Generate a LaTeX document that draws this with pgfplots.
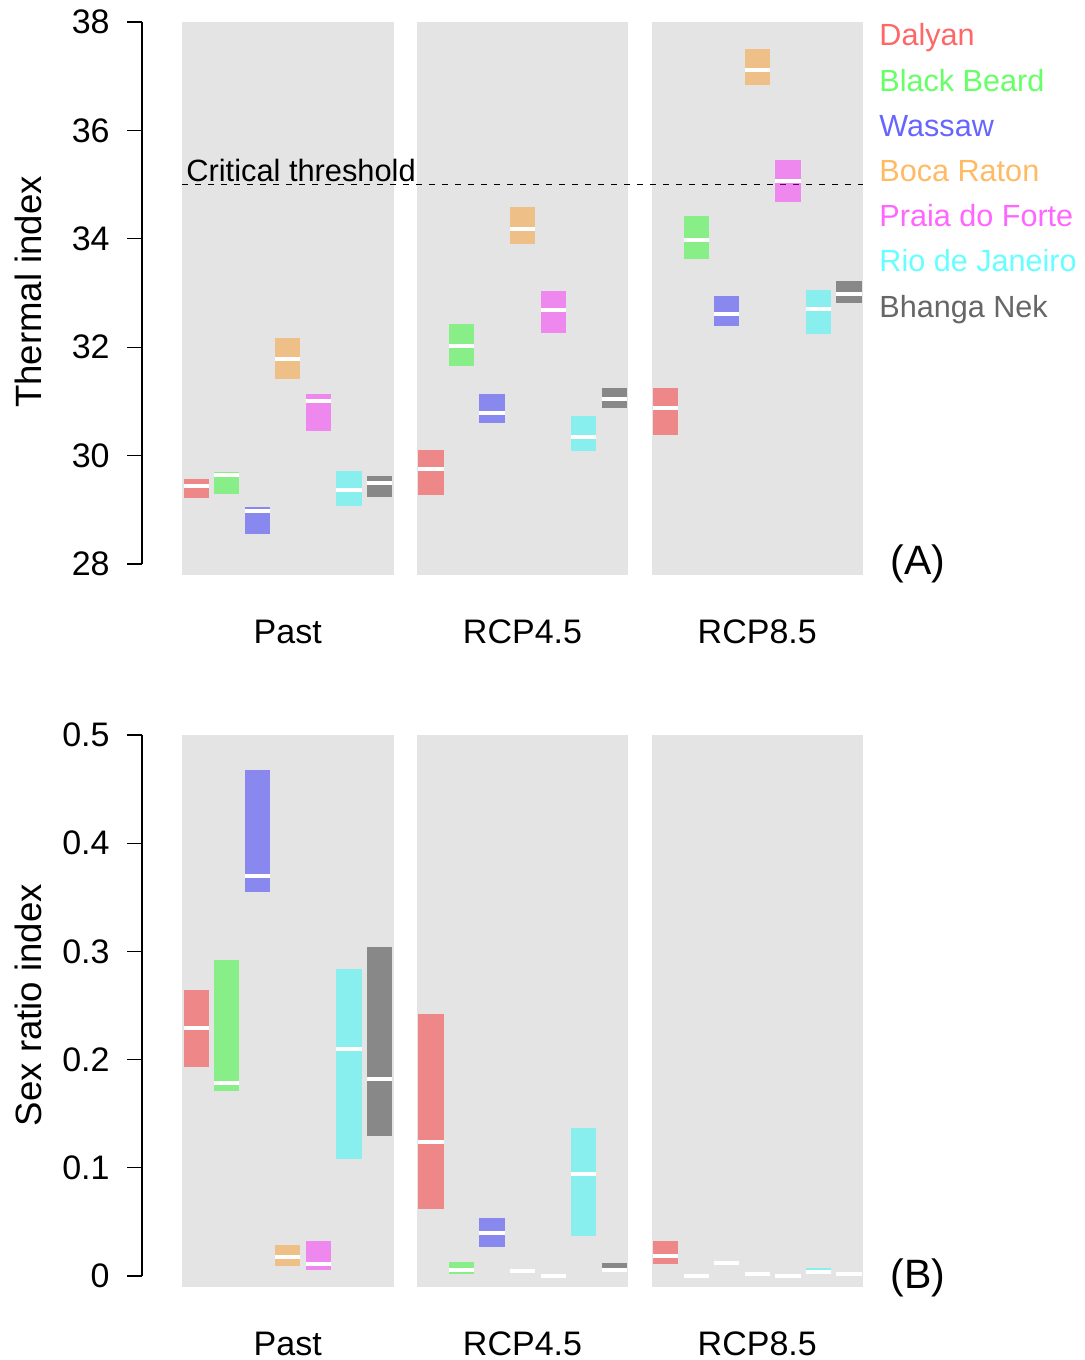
\documentclass[border=0pt]{standalone}
\usepackage{pgfplots}
\pgfplotsset{compat=1.18}
\usepackage{pgfplotstable}
\usepackage{fontspec}
\setmainfont{Liberation Sans}

\definecolor{panel}{RGB}{228,228,228}
\definecolor{cD}{RGB}{255,0,0}
\definecolor{cB}{RGB}{0,255,0}
\definecolor{cW}{RGB}{0,0,255}
\definecolor{cO}{RGB}{255,140,0}
\definecolor{cP}{RGB}{255,0,255}
\definecolor{cR}{RGB}{0,255,255}
\definecolor{cN}{RGB}{0,0,0}

% rows: Past, RCP4.5, RCP8.5 ; lo / median / hi per site
\pgfplotstableread{
Dlo   Dmed  Dhi   Blo   Bmed  Bhi   Wlo   Wmed  Whi   Olo   Omed  Ohi   Plo   Pmed  Phi   Rlo   Rmed  Rhi   Nlo   Nmed  Nhi
29.22 29.43 29.56 29.30 29.65 29.69 28.55 28.98 29.05 31.41 31.78 32.17 30.45 31.01 31.14 29.07 29.37 29.72 29.24 29.49 29.63
29.27 29.75 30.10 31.66 32.02 32.42 30.60 30.79 31.13 33.91 34.18 34.59 32.26 32.69 33.04 30.09 30.34 30.73 30.87 31.05 31.25
30.38 30.88 31.24 33.63 33.98 34.42 32.40 32.61 32.94 36.84 37.11 37.50 34.68 35.07 35.46 32.24 32.71 33.06 32.82 32.99 33.22
}\thermal

\pgfplotstableread{
Dlo    Dmed   Dhi    Blo    Bmed   Bhi    Wlo    Wmed   Whi    Olo    Omed   Ohi    Plo    Pmed   Phi    Rlo    Rmed   Rhi    Nlo    Nmed   Nhi
0.1935 0.2295 0.2643 0.1713 0.1780 0.2920 0.3552 0.3700 0.4677 0.0096 0.0173 0.0282 0.0052 0.0109 0.0326 0.1078 0.2095 0.2837 0.1294 0.1818 0.3039
0.0619 0.1235 0.2421 0.0021 0.0058 0.0129 0.0268 0.0394 0.0533 0.0049 0.0049 0.0049 0.0000 0.0000 0.0000 0.0373 0.0940 0.1368 0.0040 0.0057 0.0120
0.0114 0.0182 0.0320 0.0000 0.0000 0.0000 0.0123 0.0123 0.0123 0.0018 0.0018 0.0018 0.0000 0.0000 0.0000 0.0025 0.0034 0.0071 0.0016 0.0016 0.0016
}\sexratio

% one site: table, column prefix, slot in panel, colour
\newcommand\rangebar[4]{%
  \addplot[draw=none, mark=none, forget plot,
    error bars/.cd, y dir=both, y explicit, error mark=none,
    error bar style={draw=#4, draw opacity=0.4, line width=12.6pt}]
    table[x expr={196.2+234.75*\coordindex+30.55*#3}, y=#2med,
      y error plus expr={\thisrow{#2hi}-\thisrow{#2med}},
      y error minus expr={\thisrow{#2med}-\thisrow{#2lo}}] {#1};
  \addplot[only marks, forget plot, mark=-, mark size=6.3pt,
    mark options={draw=white, line width=2pt}]
    table[x expr={196.2+234.75*\coordindex+30.55*#3}, y=#2med] {#1};
}
\newcommand\allsites[1]{%
  \rangebar{#1}{D}{0}{cD}
  \rangebar{#1}{B}{1}{cB}
  \rangebar{#1}{W}{2}{cW}
  \rangebar{#1}{O}{3}{cO}
  \rangebar{#1}{P}{4}{cP}
  \rangebar{#1}{R}{5}{cR}
  \rangebar{#1}{N}{6}{cN}
}

\pgfplotsset{panelaxis/.style={
  scale only axis, anchor=south west,
  width=360.75pt, xmin=142, xmax=863.5,
  clip=false,
  axis line style={draw=none},
  xtick=\empty,
  tick pos=left, tick align=outside,
  major tick length=7.5pt,
  ytick style={line width=0.65pt, black},
  yticklabel style={font=\fontsize{17}{20}\selectfont, anchor=east, inner sep=0pt, xshift=-8.5pt},
  /pgf/number format/assume math mode=true,
}}

\begin{document}
\begin{tikzpicture}

\begin{axis}[panelaxis, at={(71pt,-287.5pt)}, height=276.5pt,
  ymin=27.797, ymax=38, ytick={28,30,32,34,36,38}]
\addplot[fill=panel, draw=none] coordinates {(182,27.797) (393.5,27.797) (393.5,38) (182,38)} -- cycle;
\addplot[fill=panel, draw=none] coordinates {(416.75,27.797) (628.25,27.797) (628.25,38) (416.75,38)} -- cycle;
\addplot[fill=panel, draw=none] coordinates {(651.5,27.797) (863,27.797) (863,38) (651.5,38)} -- cycle;
\addplot[black, line width=0.75pt, dash pattern=on 3pt off 3.5pt] coordinates {(182,35) (863,35)};
\allsites{\thermal}
\draw[line width=0.65pt] (axis cs:142,28) -- (axis cs:142,38);
\end{axis}

\begin{axis}[panelaxis, at={(71pt,-643.5pt)}, height=276pt,
  ymin=-0.01017, ymax=0.5, ytick={0,0.1,0.2,0.3,0.4,0.5},
  yticklabels={0,0.1,0.2,0.3,0.4,0.5}]
\addplot[fill=panel, draw=none] coordinates {(182,-0.01017) (393.5,-0.01017) (393.5,0.5) (182,0.5)} -- cycle;
\addplot[fill=panel, draw=none] coordinates {(416.75,-0.01017) (628.25,-0.01017) (628.25,0.5) (416.75,0.5)} -- cycle;
\addplot[fill=panel, draw=none] coordinates {(651.5,-0.01017) (863,-0.01017) (863,0.5) (651.5,0.5)} -- cycle;
\allsites{\sexratio}
\draw[line width=0.65pt] (axis cs:142,0) -- (axis cs:142,0.5);
\end{axis}

\begin{scope}[x=0.5pt, y=-0.5pt, every node/.style={inner sep=0pt}]
\node[rotate=90, font=\fontsize{18.3}{22}\selectfont] at (28,292) {Thermal index};
\node[rotate=90, font=\fontsize{18.3}{22}\selectfont] at (28,1005) {Sex ratio index};
\foreach \lab/\xx in {Past/287.75, RCP4.5/522.5, RCP8.5/757.25}{
  \node[anchor=base, font=\fontsize{17}{20}\selectfont] at (\xx,643) {\lab};
  \node[anchor=base, font=\fontsize{17}{20}\selectfont] at (\xx,1355) {\lab};
}
\node[anchor=base west, font=\fontsize{20.5}{24}\selectfont] at (890,574) {(A)};
\node[anchor=base west, font=\fontsize{20.5}{24}\selectfont] at (890,1288) {(B)};
\node[anchor=base west, font=\fontsize{15.4}{18}\selectfont] at (186,181) {Critical threshold};
\begin{scope}[every node/.append style={anchor=base west, font=\fontsize{15.3}{18}\selectfont, text opacity=0.6}]
\node[text=cD] at (879,46) {Dalyan};
\node[text=cB] at (879,91) {Black Beard};
\node[text=cW] at (879,136) {Wassaw};
\node[text=cO] at (879,181) {Boca Raton};
\node[text=cP] at (879,226) {Praia do Forte};
\node[text=cR] at (879,271) {Rio de Janeiro};
\node[text=cN] at (879,317) {Bhanga Nek};
\end{scope}
\end{scope}

\pgfresetboundingbox
\path[use as bounding box] (0,0) rectangle (542.5pt,-680pt);
\end{tikzpicture}
\end{document}
